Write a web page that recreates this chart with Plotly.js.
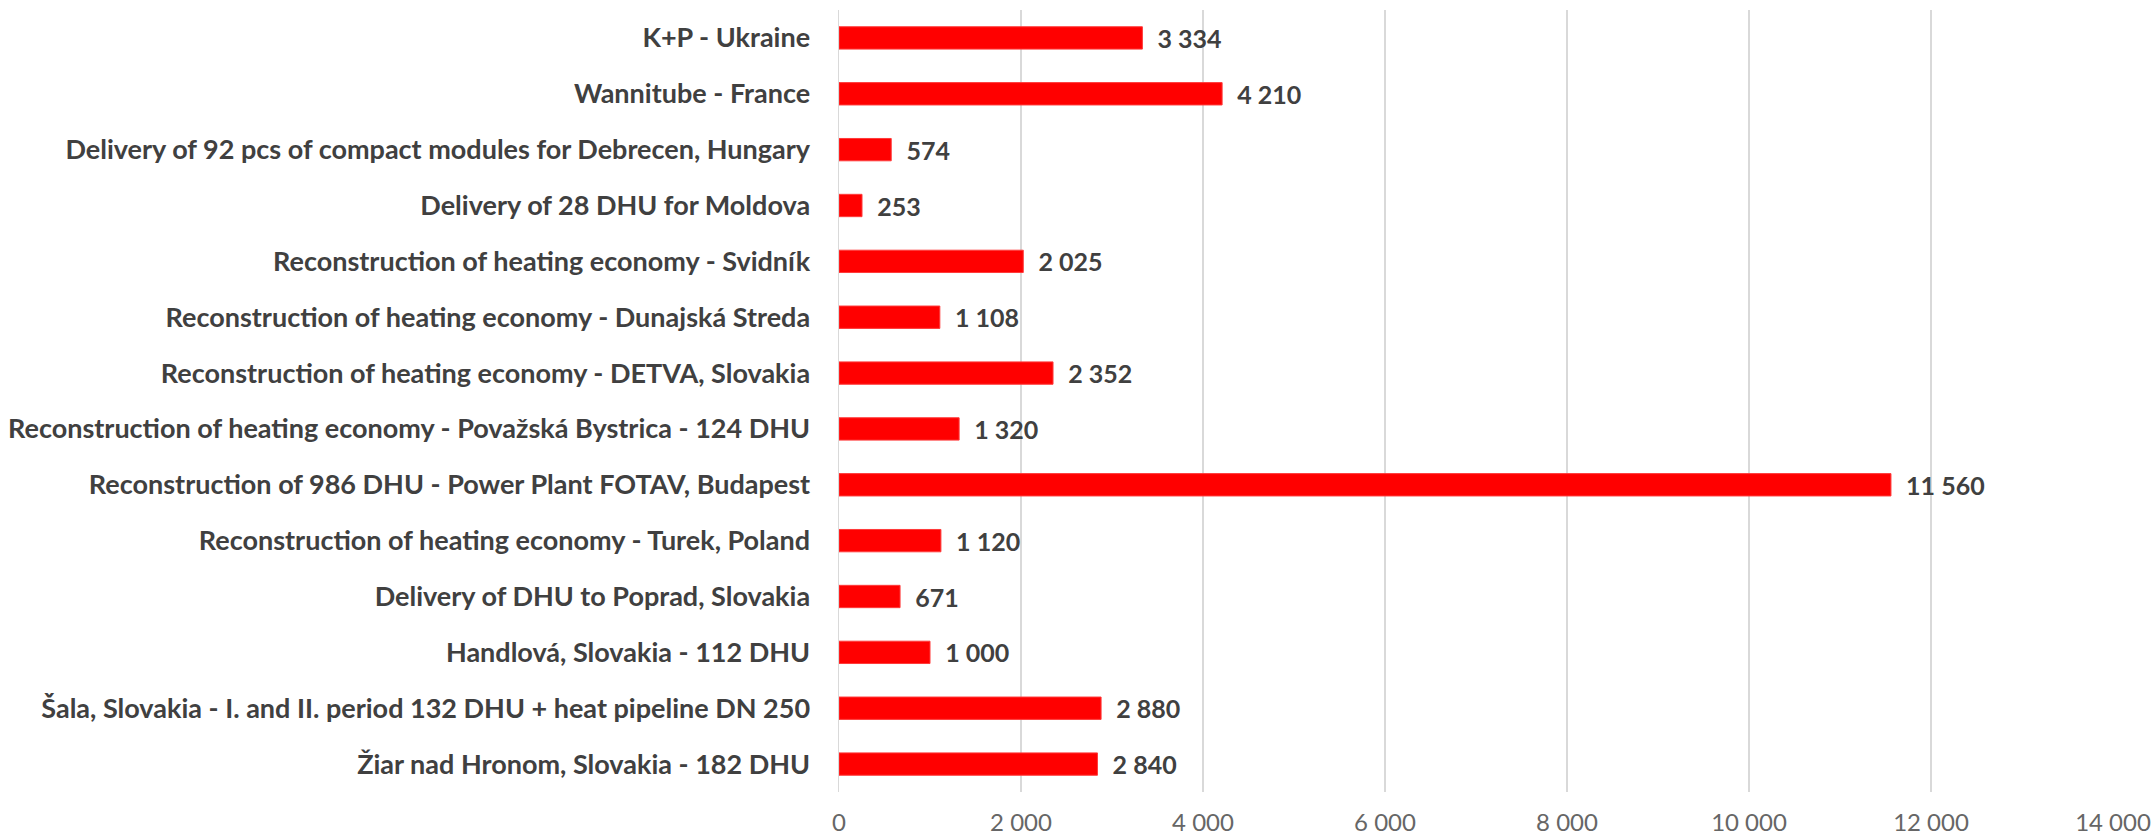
<!DOCTYPE html>
<html>
<head>
<meta charset="utf-8">
<script src="https://cdn.plot.ly/plotly-3.0.1.min.js"></script>
<style>html,body{margin:0;padding:0;background:#fff;}#chart{width:2152px;height:836px;}</style>
</head>
<body>
<div id="chart"></div>
<script>
const categories = [
  "K+P - Ukraine",
  "Wannitube - France",
  "Delivery of 92 pcs of compact modules for Debrecen, Hungary",
  "Delivery of 28 DHU for Moldova",
  "Reconstruction of heating economy - Svidník",
  "Reconstruction of heating economy - Dunajská Streda",
  "Reconstruction of heating economy - DETVA, Slovakia",
  "Reconstruction of heating economy - Považská Bystrica - 124 DHU",
  "Reconstruction of 986 DHU - Power Plant FOTAV, Budapest",
  "Reconstruction of heating economy - Turek, Poland",
  "Delivery of DHU to Poprad, Slovakia",
  "Handlová, Slovakia - 112 DHU",
  "Šala, Slovakia - I. and II. period 132 DHU + heat pipeline DN 250",
  "Žiar nad Hronom, Slovakia - 182 DHU"
];
const values = [3334, 4210, 574, 253, 2025, 1108, 2352, 1320, 11560, 1120, 671, 1000, 2880, 2840];
const tickValues = [0, 2000, 4000, 6000, 8000, 10000, 12000, 14000];

const trace = {
  type: 'bar',
  orientation: 'h',
  x: values,
  y: categories,
  marker: {color: '#ff0000', line: {color: '#ff3a3a', width: 1}},
  texttemplate: '  %{x:,.0f}',
  textposition: 'outside',
  constraintext: 'none',
  cliponaxis: false,
  textfont: {family: 'Lato, "Open Sans", sans-serif', size: 25, color: '#404040', weight: 'bold'},
  hoverinfo: 'x+y'
};

const layout = {
  width: 2152,
  height: 836,
  margin: {l: 839, r: 39, t: 10, b: 44},
  paper_bgcolor: '#ffffff',
  plot_bgcolor: '#ffffff',
  separators: ', ',
  bargap: 0.6,
  showlegend: false,
  font: {family: 'Lato, "Open Sans", sans-serif'},
  xaxis: {
    range: [0, 14000],
    tickvals: tickValues,
    tickformat: ',.0f',
    showgrid: true,
    gridcolor: '#d9d9d9',
    gridwidth: 1.5,
    zeroline: false,
    showline: false,
    ticks: '',
    ticklabelstandoff: 14,
    tickfont: {family: 'Lato, "Open Sans", sans-serif', size: 24, color: '#666666'},
    fixedrange: true
  },
  yaxis: {
    autorange: 'reversed',
    type: 'category',
    showgrid: false,
    zeroline: false,
    showline: true,
    linecolor: '#d9d9d9',
    linewidth: 1.5,
    ticks: '',
    ticklabelstandoff: 22,
    tickfont: {family: 'Lato, "Open Sans", sans-serif', size: 27, color: '#404040', weight: 'bold'},
    fixedrange: true
  }
};

Plotly.newPlot('chart', [trace], layout, {displayModeBar: false, staticPlot: true});
</script>
</body>
</html>
